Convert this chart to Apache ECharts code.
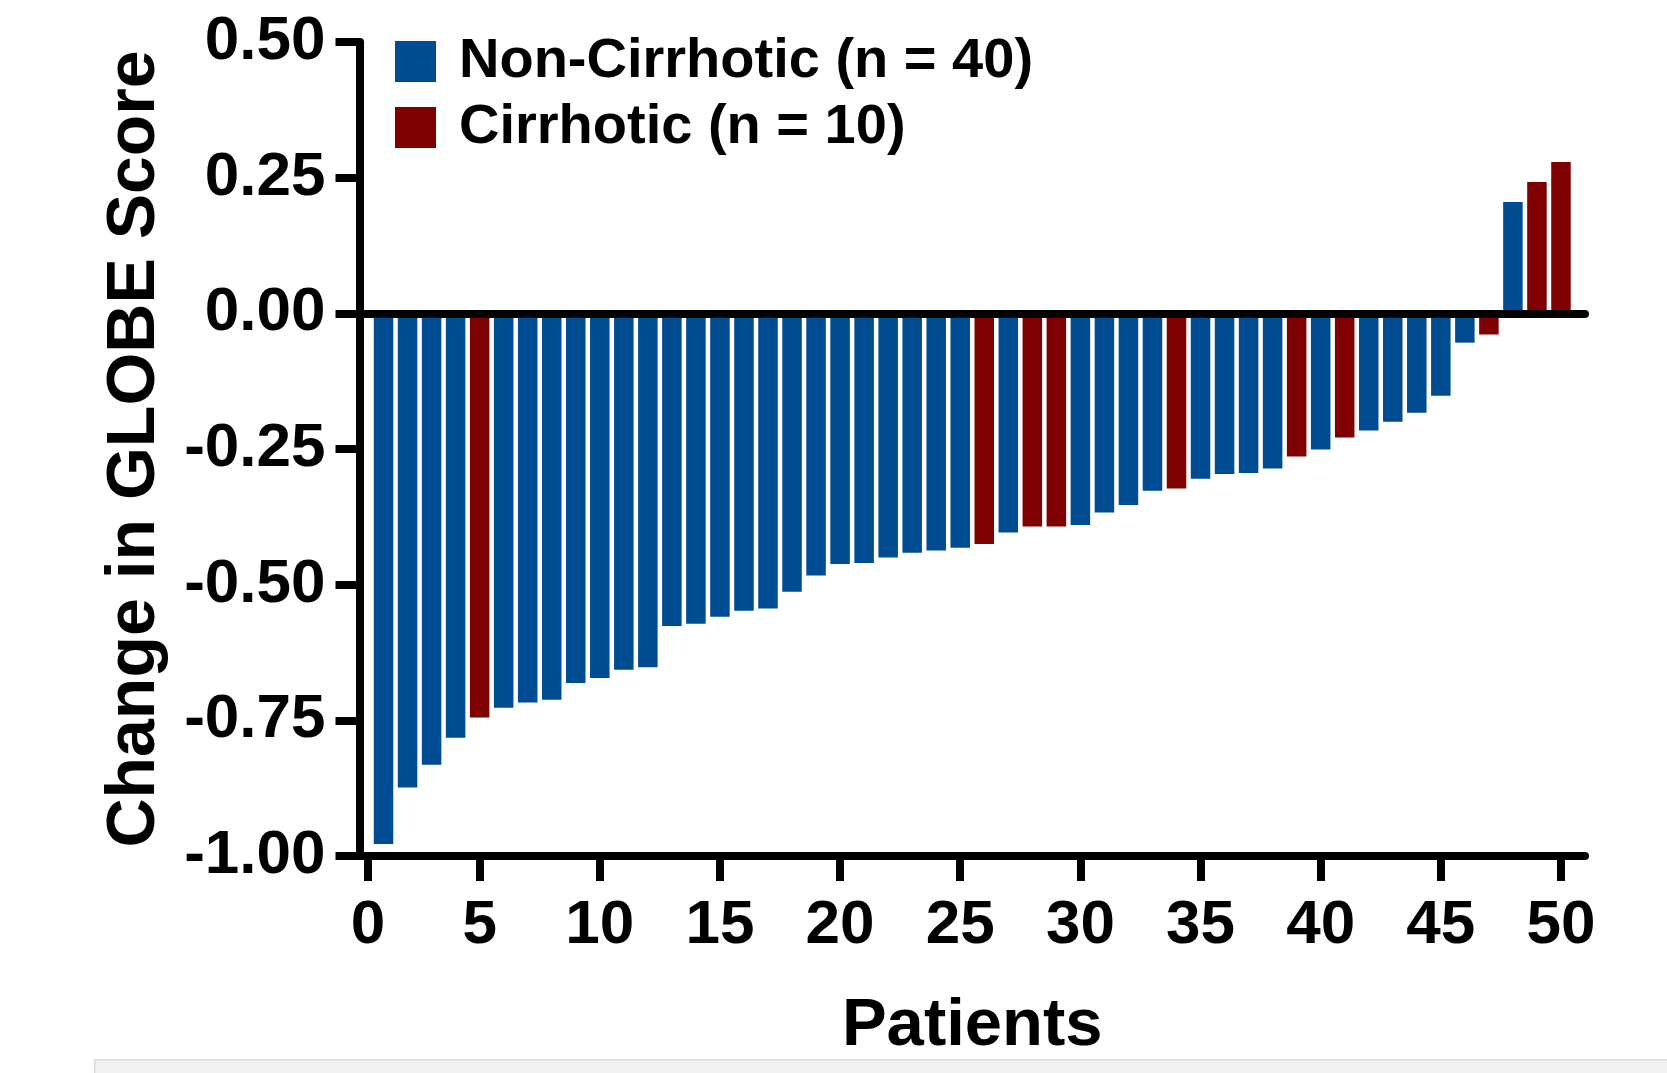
<!DOCTYPE html>
<html>
<head>
<meta charset="utf-8">
<script src="https://cdn.jsdelivr.net/npm/echarts@6/dist/echarts.min.js"></script>
<style>
  html, body { margin: 0; padding: 0; background: #fff; }
  #chart { width: 1667px; height: 1073px; }
</style>
</head>
<body>
<div id="chart"></div>
<script>
// ---- Data ----
const patients = [1,2,3,4,5,6,7,8,9,10,11,12,13,14,15,16,17,18,19,20,21,22,23,24,25,26,27,28,29,30,31,32,33,34,35,36,37,38,39,40,41,42,43,44,45,46,47,48,49,50];
const changes = [-0.978,-0.874,-0.832,-0.782,-0.745,-0.727,-0.717,-0.712,-0.681,-0.672,
                 -0.657,-0.652,-0.576,-0.572,-0.559,-0.548,-0.544,-0.513,-0.483,-0.462,
                 -0.460,-0.450,-0.441,-0.437,-0.432,-0.425,-0.404,-0.393,-0.393,-0.390,
                 -0.367,-0.353,-0.327,-0.323,-0.305,-0.296,-0.294,-0.286,-0.264,-0.251,
                 -0.229,-0.216,-0.200,-0.183,-0.152,-0.054,-0.039,0.205,0.242,0.279];
const groups = ['N','N','N','N','C','N','N','N','N','N',
                'N','N','N','N','N','N','N','N','N','N',
                'N','N','N','N','N','C','N','C','C','N',
                'N','N','N','C','N','N','N','N','C','N',
                'C','N','N','N','N','N','C','N','C','C'];
const seriesNames = ['Non-Cirrhotic (n = 40)', 'Cirrhotic (n = 10)'];
const groupKeys = ['N', 'C'];
const xTickLabels = ['0','5','10','15','20','25','30','35','40','45','50'];
const yAxisTitle = 'Change in GLOBE Score';
const xAxisTitle = 'Patients';

// ---- Styles ----
const colors = ['#004C93', '#7F0000'];
const FONT = '"Liberation Sans", Arial, sans-serif';

const seriesData = groupKeys.map(k =>
  patients.map((p, i) => groups[i] === k ? [p, changes[i]] : null).filter(d => d)
);

const chart = echarts.init(document.getElementById('chart'));
chart.setOption({
  animation: false,
  backgroundColor: '#ffffff',
  textStyle: { fontFamily: FONT },
  grid: { left: 359.5, right: 82, top: 42, bottom: 217, containLabel: false, outerBoundsMode: 'none' },
  legend: {
    orient: 'vertical', left: 395, top: 33.5, padding: 0,
    itemWidth: 41, itemHeight: 41, itemGap: 10, icon: 'rect',
    data: seriesNames,
    textStyle: { fontFamily: FONT, fontSize: 56, fontWeight: 'bold', color: '#000', padding: [0, 0, 0, 18] }
  },
  xAxis: [{
    type: 'value', min: 0, max: 51, position: 'bottom', z: 10,
    name: xAxisTitle, nameLocation: 'middle', nameGap: 137,
    nameTextStyle: { fontFamily: FONT, fontSize: 67, fontWeight: 'bold', color: '#000' },
    axisLine: { show: true, onZero: false, lineStyle: { color: '#000', width: 8 } },
    axisTick: { show: true, length: 25, lineStyle: { color: '#000', width: 8 },
      customValues: xTickLabels.map(t => t === '0' ? 0.35 : Number(t)) },
    axisLabel: { show: true, margin: 39, fontFamily: FONT, fontSize: 62, fontWeight: 'bold', color: '#000',
      customValues: xTickLabels.map(t => t === '0' ? 0.35 : Number(t)),
      formatter: v => v < 1 ? xTickLabels[0] : xTickLabels[Math.round(v / 5)] },
    splitLine: { show: false }
  }, {
    type: 'value', min: 0, max: 51, z: 10,
    axisLine: { show: true, onZero: true, onZeroAxisIndex: 0, lineStyle: { color: '#000', width: 8 } },
    axisTick: { show: false }, axisLabel: { show: false }, splitLine: { show: false }
  }],
  yAxis: {
    type: 'value', min: -1, max: 0.5, interval: 0.25, z: 10,
    name: yAxisTitle, nameLocation: 'middle', nameRotate: 90, nameGap: 190,
    nameTextStyle: { fontFamily: FONT, fontSize: 68, fontWeight: 'bold', color: '#000' },
    axisLine: { show: true, lineStyle: { color: '#000', width: 8 } },
    axisTick: { show: true, length: 24, lineStyle: { color: '#000', width: 8 } },
    axisLabel: { margin: 34, fontFamily: FONT, fontSize: 62, fontWeight: 'bold', color: '#000',
      formatter: v => v.toFixed(2) },
    splitLine: { show: false }
  },
  series: seriesNames.map((name, si) => ({
    name, type: 'bar', xAxisIndex: 0, yAxisIndex: 0,
    data: seriesData[si],
    barWidth: 19.5, barGap: '-100%',
    itemStyle: { color: colors[si] }
  })),
  graphic: [{
    type: 'rect', left: 94, top: 1059, z: 100,
    shape: { width: 1573, height: 14 },
    style: { fill: '#f1f1f1', stroke: '#dcdcdc', lineWidth: 1.5 }
  }]
});
</script>
</body>
</html>
